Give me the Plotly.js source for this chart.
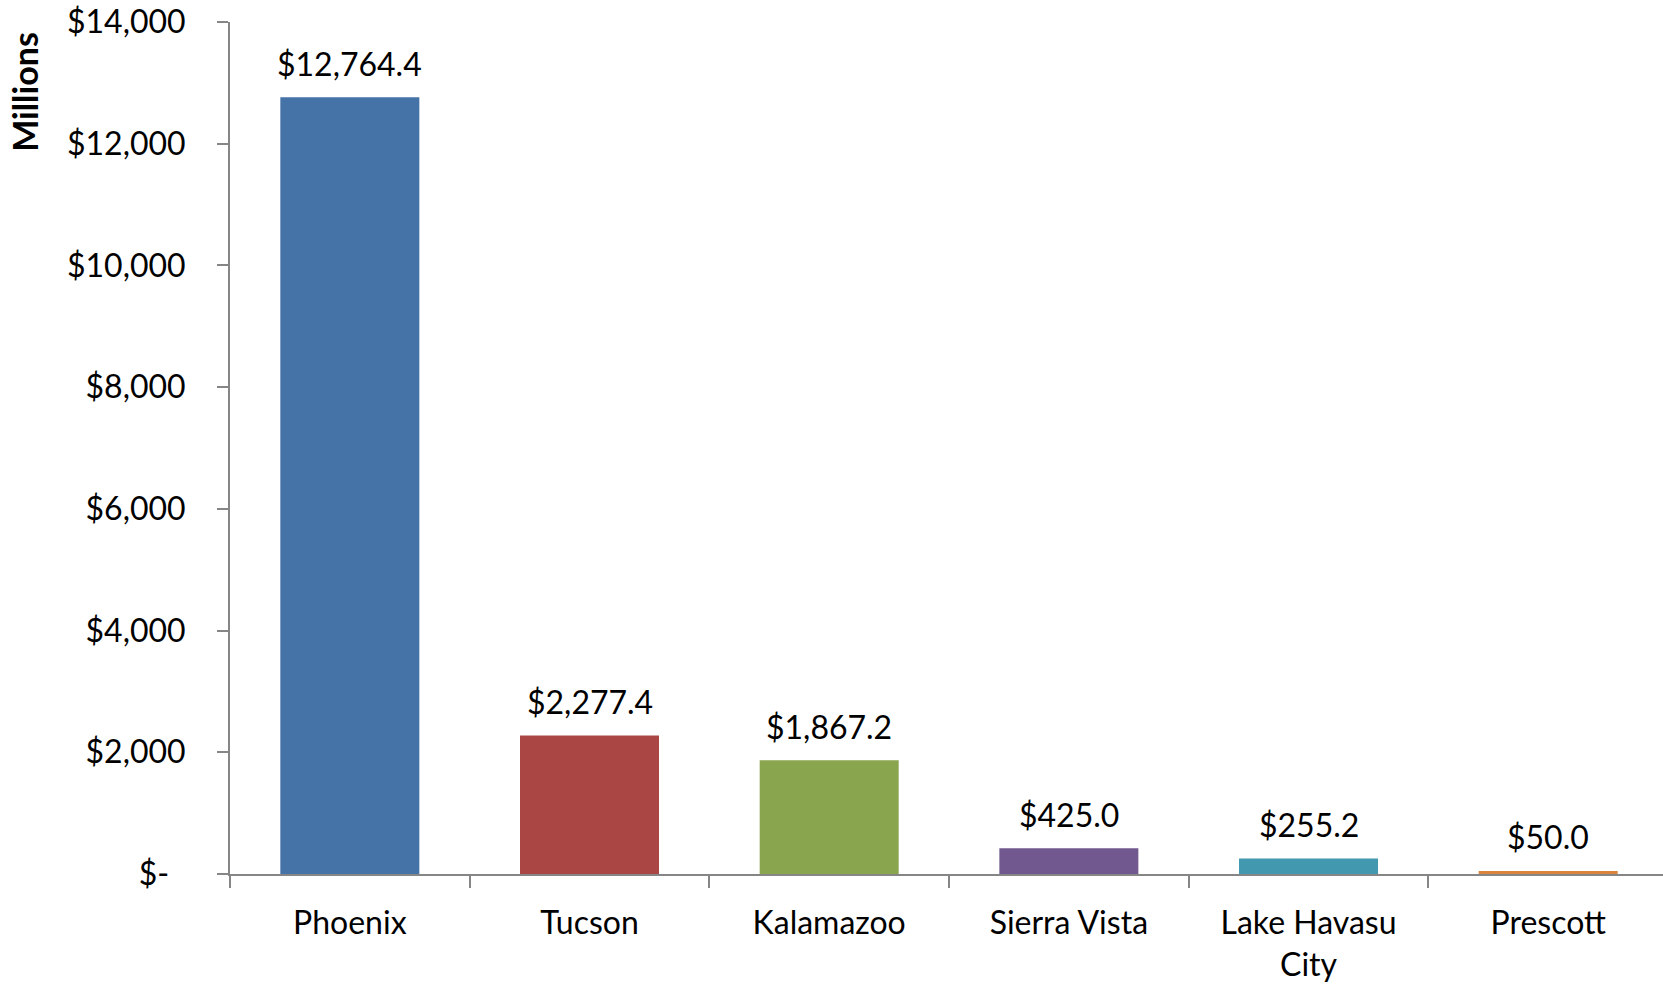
<!DOCTYPE html>
<html>
<head>
<meta charset="utf-8">
<script src="https://cdn.plot.ly/plotly-3.0.1.min.js"></script>
<style>html,body{margin:0;padding:0;background:#fff;}#chart{width:1663px;height:988px;}</style>
</head>
<body>
<div id="chart"></div>
<script>
const categories = ["Phoenix", "Tucson", "Kalamazoo", "Sierra Vista", "Lake Havasu<br>City", "Prescott"];
const values = [12764.4, 2277.4, 1867.2, 425.0, 255.2, 50.0];
const barColors = ["#4572A7", "#AA4643", "#89A54E", "#71588F", "#4198AF", "#DB843D"];
const yTickVals = [0, 2000, 4000, 6000, 8000, 10000, 12000, 14000];
const yTickText = ["$-&nbsp;&nbsp;", "$2,000", "$4,000", "$6,000", "$8,000", "$10,000", "$12,000", "$14,000"];

const fmt = v => "$" + v.toLocaleString("en-US", {minimumFractionDigits: 1, maximumFractionDigits: 1});

const FONT = "Lato, 'Open Sans', sans-serif";

const trace = {
  type: "bar",
  x: categories,
  y: values,
  marker: {color: barColors},
  width: 0.58,
  hoverinfo: "skip"
};

const annotations = categories.map((c, i) => ({
  x: c, y: values[i], xref: "x", yref: "y",
  text: fmt(values[i]), showarrow: false,
  yanchor: "middle", yshift: 34,
  font: {family: FONT, size: 32, color: "#000"}
}));

annotations.push({
  text: "<b>Millions</b>", xref: "paper", yref: "paper",
  x: 0, y: 0.918, xanchor: "center", yanchor: "middle", xshift: -205,
  textangle: -90, showarrow: false,
  font: {family: FONT, size: 34, color: "#000"}
});

const layout = {
  width: 1663, height: 988,
  margin: {l: 230, r: 0, t: 22, b: 114, pad: 0},
  paper_bgcolor: "#fff", plot_bgcolor: "#fff",
  showlegend: false,
  font: {family: FONT, size: 32, color: "#000"},
  xaxis: {
    type: "category",
    range: [-0.5, 5.479],
    showline: true, linecolor: "#868686", linewidth: 2,
    ticks: "outside", tickson: "boundaries", ticklen: 12, tickwidth: 2, tickcolor: "#868686",
    showgrid: false, zeroline: false,
    tickfont: {family: FONT, size: 32, color: "#000"},
    ticklabelstandoff: 20,
    fixedrange: true
  },
  yaxis: {
    range: [0, 14000],
    tickvals: yTickVals, ticktext: yTickText,
    showline: true, linecolor: "#868686", linewidth: 2,
    ticks: "outside", ticklen: 11, tickwidth: 2, tickcolor: "#868686",
    showgrid: false, zeroline: false,
    tickfont: {family: FONT, size: 32, color: "#000"},
    ticklabelstandoff: 25,
    fixedrange: true
  },
  annotations: annotations
};

Plotly.newPlot("chart", [trace], layout, {displayModeBar: false, staticPlot: true});
</script>
</body>
</html>
